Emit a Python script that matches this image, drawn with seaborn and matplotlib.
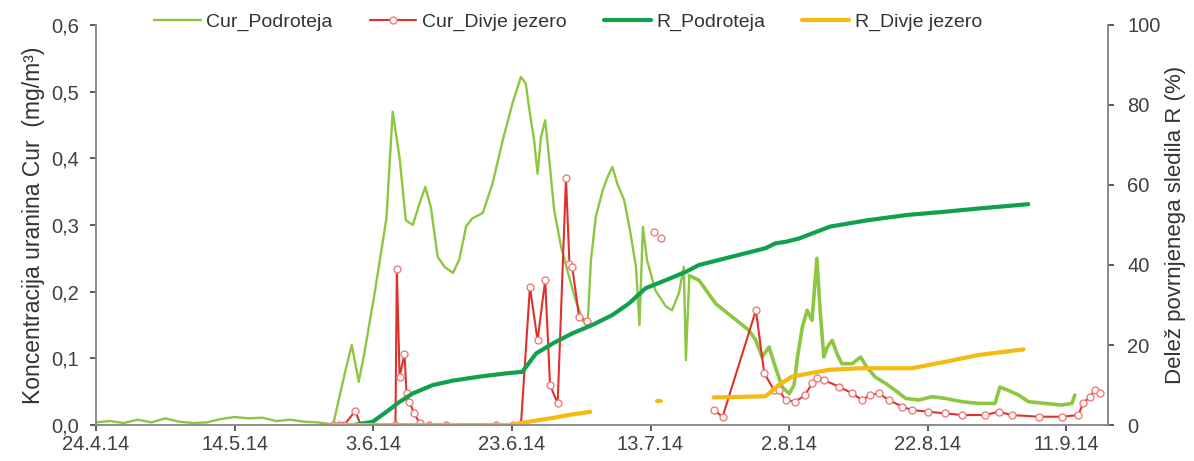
import pandas as pd
import numpy as np
import matplotlib
matplotlib.use("Agg")
import matplotlib.pyplot as plt
import seaborn as sns
from matplotlib.lines import Line2D

# days after 24.4.14
pod_day = [0, 2, 4, 6, 8, 10, 12, 14, 16, 18, 20, 22, 24, 26, 28, 30, 32, 33.5, 34.2,
           35.9, 36.9, 37.9, 38.7, 40.2, 41.9, 42.8, 43.8, 44.7, 45.7, 46.7, 47.5, 48.3,
           49.3, 50.3, 51.5, 52.4, 53.4, 54.3, 55.8, 57.2, 58.7, 60.1, 61.3, 62.0, 62.6,
           63.2, 63.7, 64.2, 64.8, 65.4, 66.1, 67.1, 68.0, 69.2, 70.2, 70.9, 71.4, 72.1,
           73.1, 73.8, 74.5, 75.2, 76.2, 77.1, 77.9, 78.4, 78.9, 79.5, 80.7, 82.2, 83.1,
           84.1, 84.8, 85.1, 85.6, 87.0, 89.4, 91.8, 94.2, 95.2, 96.1, 97.1, 98.0, 99.0,
           100.0, 100.7, 101.2, 101.9, 102.6, 103.3, 104.0, 104.5, 105.0, 105.5, 106.2,
           106.9, 107.6, 109.1, 110.3, 111.2, 112.4, 113.9, 115.3, 116.8, 118.7, 120.6,
           122.5, 124.9, 127.3, 129.7, 130.4, 131.6, 133.1, 134.5, 136.9, 139.3, 140.8, 141.2]
pod_cur = [0.004, 0.006, 0.003, 0.008, 0.004, 0.010, 0.005, 0.003, 0.004, 0.009, 0.012, 0.010,
           0.011, 0.006, 0.008, 0.005, 0.004, 0.002, 0.0,
           0.078, 0.12, 0.065, 0.107, 0.198, 0.31, 0.47, 0.40, 0.307, 0.30, 0.333, 0.357, 0.327,
           0.252, 0.237, 0.228, 0.248, 0.298, 0.31, 0.318, 0.362, 0.428, 0.483, 0.522, 0.512, 0.467,
           0.427, 0.377, 0.432, 0.457, 0.397, 0.322, 0.267, 0.232, 0.187, 0.157, 0.147, 0.247, 0.312,
           0.352, 0.372, 0.387, 0.362, 0.337, 0.288, 0.237, 0.150, 0.297, 0.247, 0.202, 0.178, 0.172,
           0.198, 0.237, 0.0975, 0.224, 0.217, 0.182, 0.162, 0.142, 0.127, 0.102, 0.117, 0.087, 0.057,
           0.047, 0.06, 0.102, 0.147, 0.172, 0.157, 0.25, 0.167, 0.102, 0.117, 0.127,
           0.107, 0.092, 0.092, 0.102, 0.087, 0.072, 0.0625, 0.052, 0.04, 0.0375, 0.0425,
           0.04, 0.035, 0.0325, 0.0325, 0.057, 0.052, 0.045, 0.035, 0.0325, 0.03, 0.0325, 0.045]

dj_day = [34.2, 35.0, 35.8, 37.4, 38.2, 43.2, 43.4, 43.8, 44.5, 44.8, 45.2, 45.9, 46.7, 48.0,
          50.5, 57.7, 60.1, 61.3, 62.6, 63.7, 64.8, 65.5, 66.6, 67.8, 68.3, 68.7, 69.7, 70.8,
          80.5,
          81.5,
          89.1, 90.4, 95.2, 96.4, 97.8, 98.5, 99.5, 100.9, 102.3, 103.3, 104.0, 105.0, 107.2,
          109.1, 110.5, 111.7, 112.9, 114.4, 116.3, 117.7, 120.1, 122.5, 124.9, 128.3, 130.2,
          132.1, 136.0, 139.3, 141.7, 142.4, 143.4, 144.1, 144.8]
dj_cur = [0.0, 0.0, 0.0, 0.021, 0.0, 0.0, 0.234, 0.072, 0.107, 0.048, 0.035, 0.0175, 0.0025, 0.0,
          0.0, 0.0, 0.0, 0.0, 0.207, 0.127, 0.217, 0.06, 0.0325, 0.37, 0.242, 0.237, 0.162, 0.156,
          0.29,
          0.28,
          0.0225, 0.0125, 0.172, 0.078, 0.0525, 0.0525, 0.0375, 0.035, 0.045, 0.0625, 0.07, 0.0675, 0.0575,
          0.0475, 0.0375, 0.045, 0.0475, 0.0375, 0.0275, 0.0225, 0.02, 0.0175, 0.015, 0.015, 0.02,
          0.015, 0.0125, 0.0125, 0.015, 0.0325, 0.0425, 0.0525, 0.0475]
dj_seg = [1] * 28 + [2] + [3] + [4] * 33

rpod_day = [37.1, 39.9, 41.9, 43.8, 45.7, 48.6, 51.5, 55.3, 59.1, 61.5, 63.5, 65.9, 68.7, 71.6,
            74.5, 76.9, 79.3, 82.2, 85.1, 87.0, 91.8, 96.6, 98.0, 99.5, 101.4, 105.9, 111.4,
            117.0, 122.4, 127.9, 134.5]
rpod_pct = [0, 0.8, 3.3, 5.8, 7.9, 10, 11.1, 12.1, 12.9, 13.3, 17.9, 20.4, 22.9, 25,
            27.5, 30.4, 34.2, 36.2, 38.3, 40, 42.1, 44.2, 45.4, 45.8, 46.6, 49.6, 51.2,
            52.5, 53.3, 54.2, 55.2]

rdj_day = [33.9, 59.7, 63.0, 66.0, 68.5, 71.3,
           80.9, 81.5,
           89.1, 92.0, 96.6, 98.5, 100.4, 105.7, 110.5, 117.7, 122.5, 127.3, 133.8]
rdj_pct = [0, 0, 1.0, 1.8, 2.6, 3.3,
           6, 6,
           6.9, 7.0, 7.2, 10, 12.1, 13.8, 14.2, 14.2, 15.8, 17.5, 18.9]
rdj_seg = [1] * 6 + [2] * 2 + [3] * 11

tick_days = [0, 20, 40, 60, 80, 100, 120, 140]
tick_labels = ["24.4.14", "14.5.14", "3.6.14", "23.6.14", "13.7.14", "2.8.14", "22.8.14", "11.9.14"]
series_names = ["Cur_Podroteja", "Cur_Divje jezero", "R_Podroteja", "R_Divje jezero"]

c_pod = "#8dc641"
c_dj = "#e0302c"
c_rpod = "#11a04e"
c_rdj = "#f5b90f"

sns.set_style("white")
plt.rcParams['font.family'] = ['Liberation Sans', 'DejaVu Sans']

df_pod = pd.DataFrame({"day": pod_day, "val": pod_cur})
df_dj = pd.DataFrame({"day": dj_day, "val": dj_cur, "seg": dj_seg})
df_rpod = pd.DataFrame({"day": rpod_day, "val": rpod_pct})
df_rdj = pd.DataFrame({"day": rdj_day, "val": rdj_pct, "seg": rdj_seg})

fig, ax = plt.subplots(figsize=(11.94, 4.61), dpi=100)
fig.subplots_adjust(left=0.0804, right=0.928, bottom=0.078, top=0.946)

# the later part of the Podroteja record is noisy and reads as a thicker band
early = df_pod[df_pod["day"] <= 85.6]
late = df_pod[df_pod["day"] >= 85.6]
sns.lineplot(data=early, x="day", y="val", ax=ax, color=c_pod, lw=1.7, sort=False)
sns.lineplot(data=late, x="day", y="val", ax=ax, color=c_pod, lw=2.6, sort=False)
sns.lineplot(data=df_dj, x="day", y="val", units="seg", estimator=None, ax=ax, color=c_dj,
             lw=1.5, sort=False, marker="o", markersize=5, markerfacecolor="white",
             markeredgecolor="#ef7b7b", markeredgewidth=1)

ax2 = ax.twinx()
sns.lineplot(data=df_rpod, x="day", y="val", ax=ax2, color=c_rpod, lw=3, sort=False)
sns.lineplot(data=df_rdj, x="day", y="val", units="seg", estimator=None, ax=ax2,
             color=c_rdj, lw=3, sort=False)

ax.set_xlim(0, 146)
ax.set_ylim(0, 0.6)
ax2.set_ylim(0, 100)
ax.set_xticks(tick_days)
ax.set_xticklabels(tick_labels)
ax.set_yticks(np.arange(0, 0.61, 0.1))
ax.set_yticklabels([f"{v:.1f}".replace(".", ",") for v in np.arange(0, 0.61, 0.1)])
ax2.set_yticks(range(0, 101, 20))

ax.set_xlabel("")
ax.set_ylabel("Koncentracija uranina Cur  (mg/m³)", fontsize=16.5, color="#333333", labelpad=5)
ax2.set_ylabel("Delež povrnjenega sledila R (%)", fontsize=16, color="#333333", labelpad=3)

spine_c = "#8a8a8a"
for a in (ax, ax2):
    a.spines["top"].set_visible(False)
    for s in ("left", "right", "bottom"):
        a.spines[s].set_color(spine_c)
        a.spines[s].set_linewidth(1.2)
ax.tick_params(axis="both", which="both", labelsize=14.5, colors="#404040", length=4,
               width=1.2, direction="out", left=True, bottom=True)
ax.tick_params(axis="y", pad=8)
ax.tick_params(axis="x", pad=3)
ax2.tick_params(axis="y", labelsize=14.5, colors="#404040", length=4, width=1.2,
                direction="out", right=True, pad=10)
for a in (ax, ax2):
    for t in a.get_xticklines() + a.get_yticklines():
        t.set_color(spine_c)

handles = [
    Line2D([], [], color=c_pod, lw=1.7),
    Line2D([], [], color=c_dj, lw=1.5, marker="o", markersize=5, markerfacecolor="white",
           markeredgecolor="#ef7b7b"),
    Line2D([], [], color=c_rpod, lw=3),
    Line2D([], [], color=c_rdj, lw=3),
]
fig.legend(handles, series_names, loc="center", bbox_to_anchor=(568 / 1194, 1 - 22 / 461),
           ncol=4, frameon=False, fontsize=14, handlelength=2.4, handletextpad=0.3,
           columnspacing=1.9, labelcolor="#333333")

fig.savefig("out.png", dpi=100)
